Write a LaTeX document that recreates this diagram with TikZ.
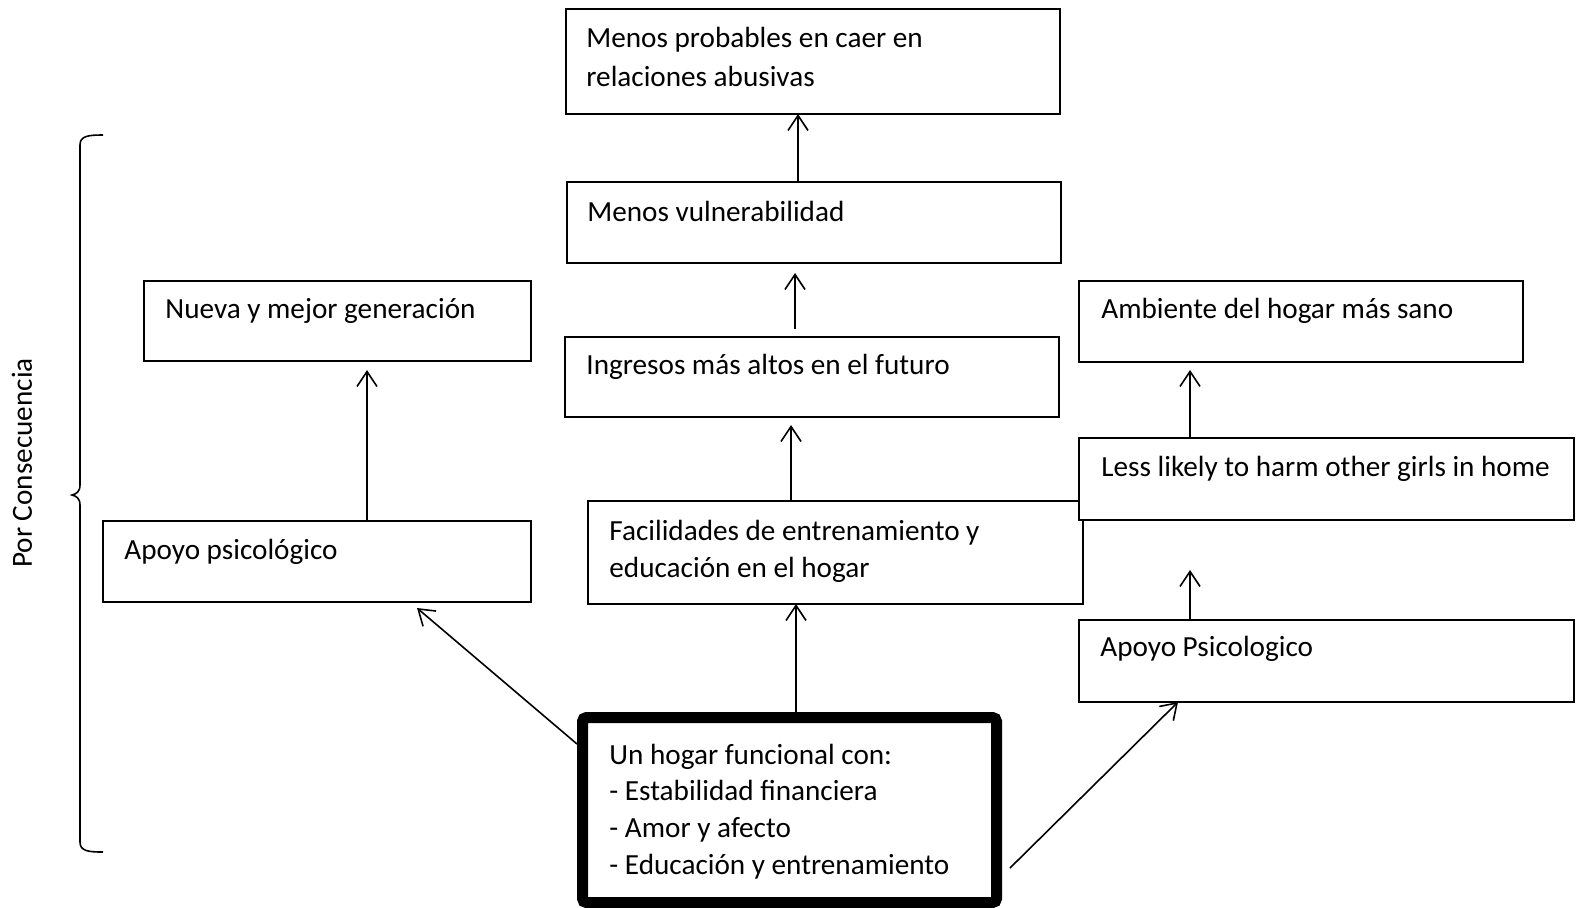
\documentclass[tikz,border=0pt]{standalone}
\usepackage{fontspec}
\setmainfont{Carlito}
\usetikzlibrary{arrows.meta,calc}
\begin{document}
\begin{tikzpicture}[x=0.5pt,y=-0.5pt,
  box/.style={draw, line width=0.9pt, fill=white, rectangle, inner sep=0pt, outer sep=0pt, anchor=north west},
  thickbox/.style={draw, line width=5.5pt, fill=white, rectangle, rounded corners=2pt, inner sep=0pt, outer sep=0pt, anchor=north west},
  txt/.style={anchor=base west, inner sep=0pt, font=\fontsize{14.6}{19.5}\selectfont},
  arr/.style={-{Straight Barb[length=7.5pt,width=10pt]}, line width=0.8pt},
  bracestyle/.style={line width=0.8pt}]
\useasboundingbox (0,0) rectangle (1584,907);

% boxes
\node[box, minimum width=247pt, minimum height=52.5pt] (top) at (566,9) {};
\node[box, minimum width=247pt, minimum height=40.5pt] (vuln) at (567,182) {};
\node[box, minimum width=247pt, minimum height=40pt] (ingr) at (565,337) {};
\node[box, minimum width=193.5pt, minimum height=40pt] (nueva) at (144,281) {};
\node[box, minimum width=214pt, minimum height=40.5pt] (apoyoL) at (103,521) {};
\node[box, minimum width=222pt, minimum height=40.5pt] (amb) at (1079,281) {};
\node[box, minimum width=247.5pt, minimum height=51.5pt] (facil) at (588,501) {};
\node[box, minimum width=247.5pt, minimum height=41pt] (less) at (1079,438) {};
\node[box, minimum width=247.5pt, minimum height=41pt] (apoyoR) at (1079,620) {};
\node[thickbox, minimum width=207pt, minimum height=92.5pt] (hogar) at (582.5,717.5) {};

% texts
\node[txt] (t1a) at (586,47) {Menos probables en caer en};
\node[txt] (t1b) at (586,86) {relaciones abusivas};
\node[txt] (t2) at (587,221) {Menos vulnerabilidad};
\node[txt] (t3) at (586,374) {Ingresos más altos en el futuro};
\node[txt] (t4) at (165,318) {Nueva y mejor generación};
\node[txt] (t5) at (124,559) {Apoyo psicológico};
\node[txt] (t6) at (1101,318) {Ambiente del hogar más sano};
\node[txt] (t7a) at (609,540) {Facilidades de entrenamiento y};
\node[txt] (t7b) at (609,577) {educación en el hogar};
\node[txt] (t8) at (1101,476) {Less likely to harm other girls in home};
\node[txt] (t9) at (1100,656) {Apoyo Psicologico};
\node[txt] (t10a) at (609,764) {Un hogar funcional con:};
\node[txt] (t10b) at (609,800) {- Estabilidad financiera};
\node[txt] (t10c) at (609,837) {- Amor y afecto};
\node[txt] (t10d) at (609,874) {- Educación y entrenamiento};

\node[txt, anchor=center, rotate=90] (pc) at (22,463) {Por Consecuencia};

% vertical arrow positions
\coordinate (xa) at (798,0);
\coordinate (xb) at (795,0);
\coordinate (xc) at (791,0);
\coordinate (xd) at (796,0);
\coordinate (xe) at (367,0);
\coordinate (xf) at (1190,0);

\draw[arr] (vuln.north -| xa) -- (top.south -| xa);
\draw[arr, shorten <=4pt, shorten >=5pt] (ingr.north -| xb) -- (vuln.south -| xb);
\draw[arr, shorten >=4pt] (facil.north -| xc) -- (ingr.south -| xc);
\draw[arr] ($(hogar.north -| xd)+(0,-5)$) -- (facil.south -| xd);
\draw[arr, shorten >=4.5pt] (apoyoL.north -| xe) -- (nueva.south -| xe);
\draw[arr, shorten >=4pt] (less.north -| xf) -- (amb.south -| xf);
\draw[arr, shorten >=25pt] (apoyoR.north -| xf) -- (less.south -| xf);

% diagonal arrows
\coordinate (dl1) at (577,744);
\coordinate (dl2) at (417,608);
\coordinate (dr1) at (1010,868);
\coordinate (dr2) at (1178,702);
\draw[arr] (dl1) -- (dl2);
\draw[arr] (dr1) -- (dr2);

% brace
\draw[bracestyle] (103,135) .. controls (88,135) and (80,136) .. (80,145)
  -- (80,485) .. controls (80,492) and (76,494) .. (72,495)
  .. controls (76,496) and (80,498) .. (80,505)
  -- (80,842) .. controls (80,851) and (88,852) .. (103,852);
\end{tikzpicture}
\end{document}
